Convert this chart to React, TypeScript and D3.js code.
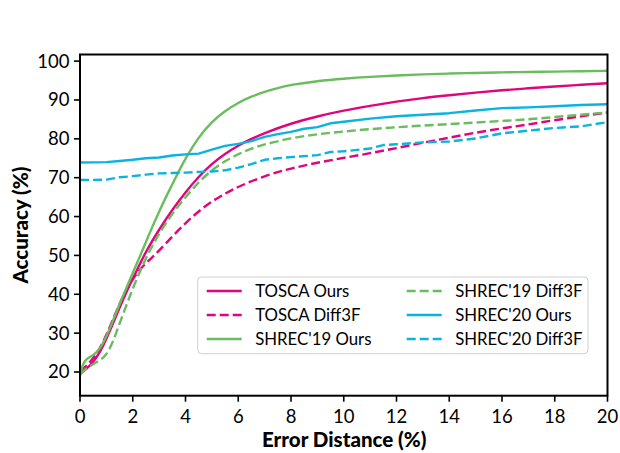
import React from "react";
import * as d3 from "d3";

const toscaOursX = [0, 0.25, 0.5, 0.75, 1, 1.25, 1.5, 1.75, 2, 2.25, 2.5, 3, 3.5, 4, 4.5, 5, 5.5, 6, 6.5, 7, 8, 9, 10, 11, 12, 13, 14, 15, 16, 17, 18, 19, 20];
const toscaOursY = [19.5, 20.8, 22.5, 25, 28.5, 32.5, 36.5, 40.5, 44, 47.5, 51, 56.7, 61.8, 66.3, 70.3, 73.6, 76.2, 78.3, 80, 81.5, 84, 85.8, 87.3, 88.5, 89.6, 90.5, 91.2, 91.9, 92.5, 93, 93.5, 93.9, 94.3];

const toscaDiffX = [0, 0.25, 0.5, 0.75, 1, 1.25, 1.5, 1.75, 2, 2.25, 2.5, 2.75, 3, 3.5, 4, 4.5, 5, 5.5, 6, 7, 8, 9, 10, 11, 12, 13, 14, 15, 16, 17, 18, 19, 20];
const toscaDiffY = [20.2, 21.5, 23.5, 26, 29.5, 33.5, 37.5, 41, 44, 46.2, 48, 49.6, 51.2, 54.9, 58.3, 61.4, 63.9, 65.9, 67.7, 70.5, 72.4, 73.9, 75.1, 76.3, 77.6, 79, 80.3, 81.6, 82.7, 83.7, 84.8, 85.8, 86.8];

const shrec19OursX = [0, 0.1, 0.25, 0.5, 0.75, 1, 1.25, 1.5, 1.75, 2, 2.25, 2.5, 2.75, 3, 3.25, 3.5, 3.75, 4, 4.5, 5, 5.5, 6, 6.5, 7, 7.5, 8, 9, 10, 11, 12, 13, 14, 15, 16, 17, 18, 19, 20];
const shrec19OursY = [19, 22, 23.5, 24.2, 25.8, 29, 33.2, 37.5, 41.5, 45.5, 49.4, 53.5, 57.5, 61.3, 64.9, 68.3, 71.7, 75, 80.5, 84.4, 87.2, 89.3, 90.9, 92.1, 93.1, 93.9, 94.9, 95.5, 95.95, 96.3, 96.6, 96.8, 96.95, 97.1, 97.2, 97.3, 97.4, 97.5];

const shrec19DiffX = [0, 0.25, 0.5, 0.75, 1, 1.25, 1.5, 1.75, 2, 2.25, 2.5, 2.75, 3, 3.5, 4, 4.5, 5, 5.5, 6, 6.5, 7, 8, 9, 10, 11, 12, 13, 14, 15, 16, 17, 18, 19, 20];
const shrec19DiffY = [19.5, 21, 22, 23, 24.3, 27.7, 32.5, 37, 41.5, 45.5, 49.3, 52.6, 55.6, 60.8, 65, 68.9, 72, 74.3, 76.1, 77.5, 78.6, 80.2, 81.2, 81.9, 82.5, 83, 83.4, 83.8, 84.2, 84.6, 85, 85.6, 86.2, 86.8];

const shrec20OursX = [0, 1, 1.5, 2, 2.5, 3, 3.5, 4, 4.5, 5, 5.5, 6, 6.5, 7, 7.5, 8, 8.5, 9, 9.5, 10, 11, 12, 13, 14, 15, 16, 17, 18, 19, 20];
const shrec20OursY = [73.9, 74.0, 74.3, 74.6, 75.0, 75.2, 75.7, 76.0, 76.2, 77.2, 78.2, 78.7, 79.4, 80.5, 81.2, 81.8, 82.6, 83.0, 84.0, 84.4, 85.2, 85.8, 86.2, 86.6, 87.3, 87.9, 88.1, 88.4, 88.7, 88.9];

const shrec20DiffX = [0, 1, 1.5, 2, 2.5, 3, 3.5, 4, 4.5, 5, 5.5, 6, 6.5, 7, 7.5, 8, 9, 9.5, 10, 11, 11.5, 12, 13, 14, 15, 16, 17, 18, 19, 20];
const shrec20DiffY = [69.4, 69.5, 70.1, 70.4, 70.8, 71.1, 71.2, 71.3, 71.5, 71.6, 71.9, 72.6, 73.5, 74.6, 75.0, 75.3, 75.8, 76.6, 76.8, 77.5, 78.4, 78.6, 79.1, 79.3, 80.1, 81.4, 82.1, 82.8, 83.2, 84.3];

const xTicks = [0, 2, 4, 6, 8, 10, 12, 14, 16, 18, 20];
const yTicks = [20, 30, 40, 50, 60, 70, 80, 90, 100];

const MAGENTA = "#e0057c";
const GREEN = "#69bd5d";
const CYAN = "#0bb3e0";

const seriesList = [
  { name: "TOSCA Ours", xs: toscaOursX, ys: toscaOursY, color: MAGENTA, dashed: false, smooth: true },
  { name: "TOSCA Diff3F", xs: toscaDiffX, ys: toscaDiffY, color: MAGENTA, dashed: true, smooth: true },
  { name: "SHREC'19 Ours", xs: shrec19OursX, ys: shrec19OursY, color: GREEN, dashed: false, smooth: true },
  { name: "SHREC'19 Diff3F", xs: shrec19DiffX, ys: shrec19DiffY, color: GREEN, dashed: true, smooth: true },
  { name: "SHREC'20 Ours", xs: shrec20OursX, ys: shrec20OursY, color: CYAN, dashed: false, smooth: false },
  { name: "SHREC'20 Diff3F", xs: shrec20DiffX, ys: shrec20DiffY, color: CYAN, dashed: true, smooth: false },
];

const W = 620, H = 453;
const L = 80, R = 607.5, T = 54.5, B = 395.7;
const FONT = "Lato, 'DejaVu Sans', sans-serif";

export default function App() {
  const x = d3.scaleLinear().domain([0, 20]).range([L, R]);
  const y = d3.scaleLinear().domain([13.9, 101.7]).range([B, T]);
  const smoothLine = d3.line<[number, number]>().x(d => x(d[0])).y(d => y(d[1])).curve(d3.curveBasis);
  const rawLine = d3.line<[number, number]>().x(d => x(d[0])).y(d => y(d[1])).curve(d3.curveLinear);

  const legendX = 197.7, legendY = 277, legendW = 390.3, legendH = 76.7;
  const rowY = [291, 315, 339];
  const colX = [206.7, 406.7];

  return (
    <svg width={W} height={H} style={{ position: "absolute", left: 0, top: 0 }} fontFamily={FONT}>
      <rect x={0} y={0} width={W} height={H} fill="#fff" />
      <defs>
        <clipPath id="plotclip">
          <rect x={L} y={T} width={R - L} height={B - T} />
        </clipPath>
      </defs>
      <g clipPath="url(#plotclip)">
        {seriesList.map(s => {
          const pts = s.xs.map((v, i) => [v, s.ys[i]] as [number, number]);
          return (
            <path key={s.name}
              d={(s.smooth ? smoothLine(pts) : rawLine(pts)) || ""}
              fill="none" stroke={s.color} strokeWidth={2.4} strokeLinejoin="round"
              strokeDasharray={s.dashed ? "9,4" : undefined} />
          );
        })}
      </g>
      <rect x={L} y={T} width={R - L} height={B - T} fill="none" stroke="#000" strokeWidth={2} />
      {xTicks.map(t => (
        <g key={"x" + t}>
          <line x1={x(t)} x2={x(t)} y1={B} y2={B + 6} stroke="#000" strokeWidth={1.6} />
          <text x={x(t)} y={423} textAnchor="middle" fontSize={18.5} fill="#000">{t}</text>
        </g>
      ))}
      {yTicks.map(t => (
        <g key={"y" + t}>
          <line x1={L - 6} x2={L} y1={y(t)} y2={y(t)} stroke="#000" strokeWidth={1.6} />
          <text x={69.5} y={y(t) + 6.5} textAnchor="end" fontSize={18.5} fill="#000">{t}</text>
        </g>
      ))}
      <text x={(L + R) / 2 + 0.5} y={447} textAnchor="middle" fontSize={20.5} fontWeight={900} fill="#000">Error Distance (%)</text>
      <text transform={`translate(28, ${(T + B) / 2}) rotate(-90)`} textAnchor="middle" fontSize={20.5} fontWeight={900} fill="#000">Accuracy (%)</text>
      <rect x={legendX} y={legendY} width={legendW} height={legendH} rx={4} ry={4} fill="#fff" fillOpacity={0.85} stroke="#d0d0d0" strokeWidth={1} />
      {seriesList.map((s, i) => {
        const col = Math.floor(i / 3), row = i % 3;
        const lx = colX[col], ly = rowY[row];
        return (
          <g key={"lg" + s.name}>
            <line x1={lx} x2={lx + 35} y1={ly} y2={ly} stroke={s.color} strokeWidth={2.4} strokeDasharray={s.dashed ? "9,4" : undefined} />
            <text x={lx + 48.5} y={ly + 6} fontSize={16.8} fill="#000">{s.name}</text>
          </g>
        );
      })}
    </svg>
  );
}
